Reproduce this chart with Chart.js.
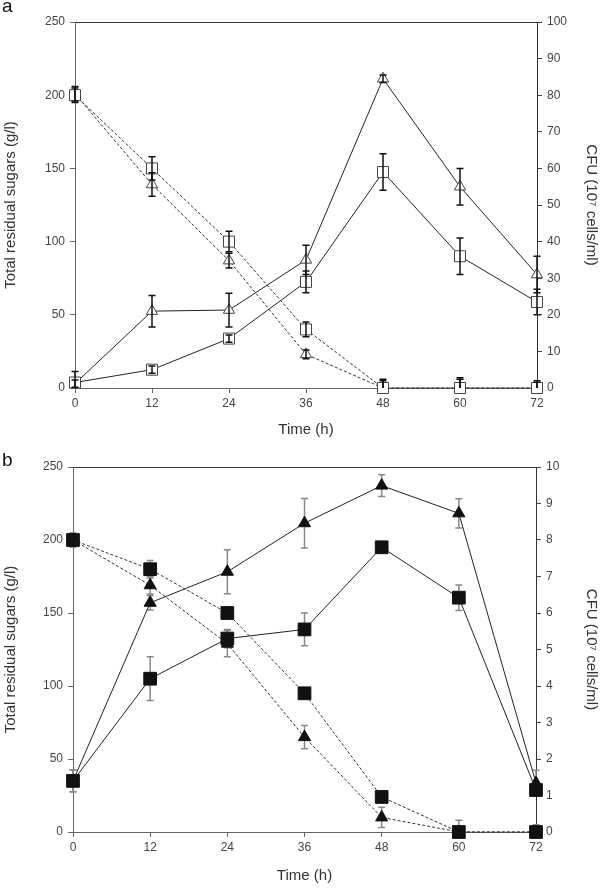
<!DOCTYPE html>
<html><head><meta charset="utf-8">
<script src="https://cdn.jsdelivr.net/npm/chart.js@4/dist/chart.umd.min.js"></script>
<style>
html,body{margin:0;padding:0;background:#fff;}
#wrap{position:relative;width:600px;height:892px;overflow:hidden;}
canvas{position:absolute;left:0;}
#ca{top:0}
#cb{top:446px}
.lab{position:absolute;font-family:"Liberation Sans",Arial,sans-serif;font-size:19px;line-height:19px;color:#111;}
</style></head><body>
<div id="wrap">
<canvas id="ca" width="600" height="446"></canvas>
<canvas id="cb" width="600" height="446"></canvas>
<div class="lab" style="left:2px;top:-4px">a</div>
<div class="lab" style="left:2px;top:450px">b</div>
</div>
<script>
// ---- data ----
const hours = [0, 12, 24, 36, 48, 60, 72];
const xTicks = [0, 12, 24, 36, 48, 60, 72];
const sugarTicks = [0, 50, 100, 150, 200, 250];
const cfuTicksA = [0, 10, 20, 30, 40, 50, 60, 70, 80, 90, 100];
const cfuTicksB = [0, 1, 2, 3, 4, 5, 6, 7, 8, 9, 10];

// Panel a (open symbols)
const aSugarSq = [200, 150, 100, 40, 0, 0, 0];
const aSugarSqErr = [5, 8, 7, 5, 6, 7, 4];
const aSugarTri = [201, 139, 87, 23, 0, 0, 0];
const aSugarTriErr = [5, 8, 5, 3, 5, 6, 5];
const aCfuSq = [1.5, 5, 13.5, 29, 59, 36, 23.5];
const aCfuSqErr = [3, 1, 1, 3, 5, 5, 3.5];
const aCfuTri = [1.2, 21, 21.3, 35, 84.5, 55, 31];
const aCfuTriErr = [1, 4.3, 4.6, 4, 1, 5, 5];

// Panel b (filled symbols)
const bSugarSq = [200, 180, 150, 95, 24, 0, 0];
const bSugarSqErr = [5, 6, 0, 3, 0, 3, 2];
const bSugarTri = [200, 169, 129, 65, 10, 0, 0];
const bSugarTriErr = [4, 6, 9, 8, 7, 8, 5];
const bCfuSq = [1.4, 4.2, 5.3, 5.55, 7.8, 6.42, 1.15];
const bCfuSqErr = [0.3, 0.6, 0.25, 0.45, 0, 0.35, 0.15];
const bCfuTri = [1.4, 6.28, 7.13, 8.46, 9.49, 8.73, 1.34];
const bCfuTriErr = [0.3, 0.2, 0.6, 0.68, 0.3, 0.4, 0.35];

const FONT = '"Liberation Sans", Arial, sans-serif';

function pts(arr) { return hours.map((h, i) => ({ x: h, y: arr[i] })); }

function drawErr(chart, opts) {
  const ctx = chart.ctx, xs = chart.scales.x, ca = chart.chartArea;
  ctx.save();
  ctx.beginPath();
  ctx.rect(0, ca.top - 10, chart.width, ca.bottom - ca.top + 10);
  ctx.clip();
  ctx.strokeStyle = opts.color;
  ctx.lineWidth = opts.width;
  chart.data.datasets.forEach(ds => {
    const ys = chart.scales[ds.yAxisID];
    ds.data.forEach((p, i) => {
      const e = ds.errors[i];
      if (!e) return;
      const x = xs.getPixelForValue(p.x);
      const yt = ys.getPixelForValue(p.y + e);
      const yb = ys.getPixelForValue(p.y - e);
      const c = opts.cap;
      ctx.beginPath();
      ctx.moveTo(x, yt); ctx.lineTo(x, yb);
      ctx.moveTo(x - c, yt); ctx.lineTo(x + c, yt);
      ctx.moveTo(x - c, yb); ctx.lineTo(x + c, yb);
      ctx.stroke();
    });
  });
  ctx.restore();
}
const errPlugin = {
  id: 'errbars',
  beforeDatasetsDraw(chart, args, opts) { if (opts.behind) drawErr(chart, opts); },
  afterDatasetsDraw(chart, args, opts) { if (!opts.behind) drawErr(chart, opts); }
};

function ds(data, errs, axis, style, dashed, radius, fill, border) {
  return {
    data: pts(data), errors: errs, yAxisID: axis, showLine: true,
    borderColor: dashed ? '#333' : '#222', borderWidth: 1,
    borderDash: dashed ? [3, 2] : [],
    pointStyle: style, pointRadius: radius,
    pointBackgroundColor: fill, pointBorderColor: border, pointBorderWidth: 1,
    clip: false, tension: 0
  };
}

function makeChart(id, sets, cfuMax, cfuTicks, geo, err) {
  const tickFont = { family: FONT, size: 12 };
  const titleFont = { family: FONT, size: 15 };
  return new Chart(document.getElementById(id), {
    type: 'scatter',
    data: { datasets: sets },
    plugins: [errPlugin],
    options: {
      responsive: false, animation: false, events: [],
      layout: { padding: { top: geo.top, left: 0, right: 0, bottom: 0 }, autoPadding: false },
      plugins: { legend: { display: false }, tooltip: { enabled: false }, errbars: err },
      scales: {
        x: {
          type: 'linear', position: 'bottom', min: 0, max: 72,
          afterBuildTicks: s => { s.ticks = xTicks.map(v => ({ value: v })); },
          ticks: { font: tickFont, color: '#444', padding: 3, maxRotation: 0 },
          grid: { drawOnChartArea: false, drawTicks: true, tickLength: 5, color: '#666' },
          border: { display: true, color: '#666', width: 1 },
          title: { display: true, text: 'Time (h)', font: titleFont, color: '#333', padding: { top: 0, bottom: 7 } },
          afterFit: s => { s.height = geo.xh; }
        },
        xTop: {
          type: 'linear', position: 'top', min: 0, max: 72, display: true,
          ticks: { display: false }, grid: { display: false },
          border: { display: true, color: '#333', width: 1 },
          afterFit: s => { s.height = 0; }
        },
        y: {
          type: 'linear', position: 'left', min: 0, max: 250,
          afterBuildTicks: s => { s.ticks = sugarTicks.map(v => ({ value: v })); },
          ticks: { font: tickFont, color: '#444', padding: 5 },
          grid: { drawOnChartArea: false, drawTicks: true, tickLength: 5, color: '#666' },
          border: { display: true, color: '#666', width: 1 },
          title: { display: true, text: 'Total residual sugars (g/l)', font: titleFont, color: '#333', padding: { top: 2, bottom: 0 } },
          afterFit: s => { s.width = geo.left; }
        },
        y2: {
          type: 'linear', position: 'right', min: 0, max: cfuMax,
          afterBuildTicks: s => { s.ticks = cfuTicks.map(v => ({ value: v })); },
          ticks: { font: tickFont, color: '#444', padding: 5 },
          grid: { drawOnChartArea: false, drawTicks: true, tickLength: 5, color: '#444' },
          border: { display: true, color: '#333', width: 1 },
          title: { display: true, text: 'CFU (10\u2077 cells/ml)', font: titleFont, color: '#333', padding: { top: 0, bottom: 0 } },
          afterFit: s => { s.width = geo.right; }
        }
      }
    }
  });
}

makeChart('ca', [
  ds(aSugarSq, aSugarSqErr, 'y', 'rect', true, 7.8, '#fff', '#444'),
  ds(aSugarTri, aSugarTriErr, 'y', 'triangle', true, 6.5, '#fff', '#444'),
  ds(aCfuSq, aCfuSqErr, 'y2', 'rect', false, 7.8, '#fff', '#444'),
  ds(aCfuTri, aCfuTriErr, 'y2', 'triangle', false, 6.5, '#fff', '#444')
], 100, cfuTicksA, { top: 22, xh: 58, left: 75, right: 63 },
  { color: '#111', width: 1.5, cap: 3.5, behind: false });

makeChart('cb', [
  ds(bSugarSq, bSugarSqErr, 'y', 'rect', true, 9, '#111', '#111'),
  ds(bSugarTri, bSugarTriErr, 'y', 'triangle', true, 7, '#111', '#111'),
  ds(bCfuSq, bCfuSqErr, 'y2', 'rect', false, 9, '#111', '#111'),
  ds(bCfuTri, bCfuTriErr, 'y2', 'triangle', false, 7, '#111', '#111')
], 10, cfuTicksB, { top: 21, xh: 60, left: 73, right: 64 },
  { color: '#888', width: 1.5, cap: 3.5, behind: true });
</script>
</body></html>
